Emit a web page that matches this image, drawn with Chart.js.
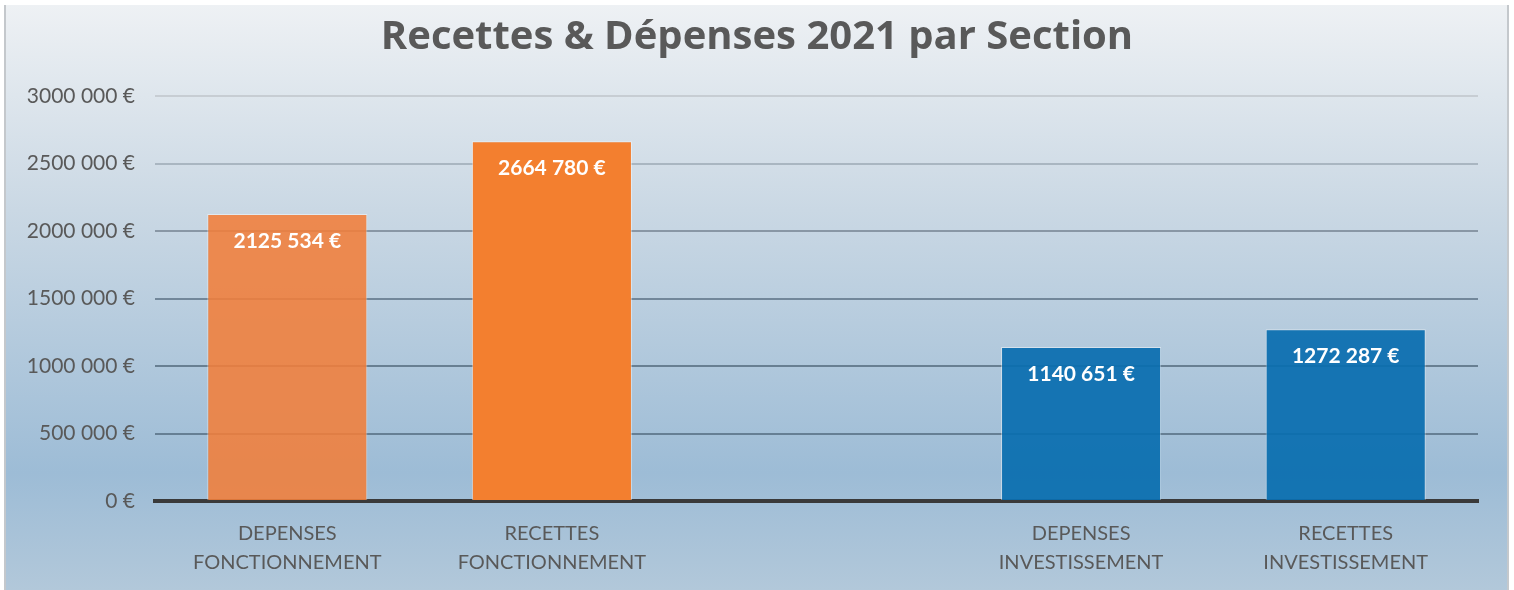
<!DOCTYPE html>
<html>
<head>
<meta charset="utf-8">
<script src="https://cdn.jsdelivr.net/npm/chart.js@4"></script>
<style>
  html, body { margin: 0; padding: 0; background: #fff; }
  #wrap { width: 1514px; height: 590px; }
</style>
</head>
<body>
<div id="wrap"><canvas id="chart" width="1514" height="590"></canvas></div>
<script>
const categories = [
    ["DEPENSES", "FONCTIONNEMENT"],
    ["RECETTES", "FONCTIONNEMENT"],
    "",
    ["DEPENSES", "INVESTISSEMENT"],
    ["RECETTES", "INVESTISSEMENT"],
];
const montants = [2125534, 2664780, null, 1140651, 1272287];
const barColors = [
    "rgba(241,126,58,0.88)",
    "rgba(243,127,47,1)",
    "rgba(0,0,0,0)",
    "rgba(10,110,175,0.93)",
    "rgba(10,110,175,0.93)",
];
const yTicks = { min: 0, max: 3000000, step: 500000 };

// format "2125 534 €" comme dans Excel
function euro(v) {
    if (v === 0) return "0 €";
    const mille = Math.floor(v / 1000);
    const reste = String(v % 1000).padStart(3, "0");
    return mille + " " + reste + " €";
}

const gridColors = {
    3000000: "#c7cdd3",
    2500000: "#a9b6c1",
    2000000: "#8997a5",
    1500000: "#72879a",
    1000000: "#687f92",
    500000: "#667f94",
};

// fond dégradé + cadre
const fondPlugin = {
    id: "fond",
    beforeDraw(chart) {
        const ctx = chart.ctx;
        ctx.save();
        ctx.fillStyle = "#ffffff";
        ctx.fillRect(0, 0, chart.width, chart.height);
        const g = ctx.createLinearGradient(0, 5, 0, chart.height);
        g.addColorStop(0, "#eef1f4");
        g.addColorStop(0.35, "#cad8e4");
        g.addColorStop(0.8, "#9dbcd6");
        g.addColorStop(1, "#b2c8da");
        ctx.fillStyle = g;
        ctx.fillRect(5, 5, 1503, chart.height - 5);
        ctx.strokeStyle = "#c4c8cc";
        ctx.lineWidth = 2;
        ctx.beginPath();
        ctx.moveTo(5, chart.height);
        ctx.lineTo(5, 5);
        ctx.moveTo(1508, 5);
        ctx.lineTo(1508, chart.height);
        ctx.stroke();
        ctx.restore();
    },
};

// étiquettes de valeur dans la barre
const etiquettesPlugin = {
    id: "etiquettes",
    afterDatasetsDraw(chart) {
        const ctx = chart.ctx;
        const meta = chart.getDatasetMeta(0);
        ctx.save();
        ctx.fillStyle = "#ffffff";
        ctx.font = "bold 21px Lato, 'Open Sans', sans-serif";
        ctx.textAlign = "center";
        ctx.textBaseline = "middle";
        meta.data.forEach((bar, i) => {
            const v = montants[i];
            if (v == null) return;
            ctx.fillText(euro(v), bar.x, bar.y + 27);
        });
        ctx.restore();
    },
};

new Chart(document.getElementById("chart").getContext("2d"), {
    type: "bar",
    data: {
        labels: categories,
        datasets: [
            {
                data: montants,
                backgroundColor: barColors,
                borderColor: "rgba(255,255,255,0.45)",
                borderWidth: 1,
                categoryPercentage: 1,
                barPercentage: 0.605,
            },
        ],
    },
    options: {
        responsive: false,
        animation: false,
        layout: { padding: { left: 5, right: 5, top: 5, bottom: 0 } },
        plugins: {
            legend: { display: false },
            tooltip: { enabled: false },
            title: {
                display: true,
                text: "Recettes & Dépenses 2021 par Section",
                color: "#595959",
                font: { family: "'Open Sans', Lato, sans-serif", size: 40, weight: "bold" },
                padding: { top: 9, bottom: 34 },
            },
        },
        scales: {
            x: {
                grid: { display: false, drawTicks: false },
                border: { color: "#3a3a3a", width: 4 },
                afterFit(scale) { scale.height = 89; },
                ticks: {
                    color: "#595959",
                    font: { family: "Lato, 'Open Sans', sans-serif", size: 20, lineHeight: 1.45 },
                    padding: 18,
                    maxRotation: 0,
                    autoSkip: false,
                },
            },
            y: {
                min: yTicks.min,
                max: yTicks.max,
                afterFit(scale) { scale.width = 150; },
                grid: {
                    drawTicks: false,
                    lineWidth: 2,
                    color: (c) => (c.tick && gridColors[c.tick.value]) || "rgba(0,0,0,0)",
                },
                border: { display: false },
                ticks: {
                    stepSize: yTicks.step,
                    color: "#595959",
                    font: { family: "Lato, 'Open Sans', sans-serif", size: 21 },
                    padding: 20,
                    callback: (v) => euro(v),
                },
            },
            // marge droite vide, pour que le titre reste centré sur la page
            marge: {
                type: "linear",
                position: "right",
                afterFit(scale) { scale.width = 31; },
                grid: { display: false, drawTicks: false },
                border: { display: false },
                ticks: { display: false },
            },
        },
    },
    plugins: [fondPlugin, etiquettesPlugin],
});
</script>
</body>
</html>
